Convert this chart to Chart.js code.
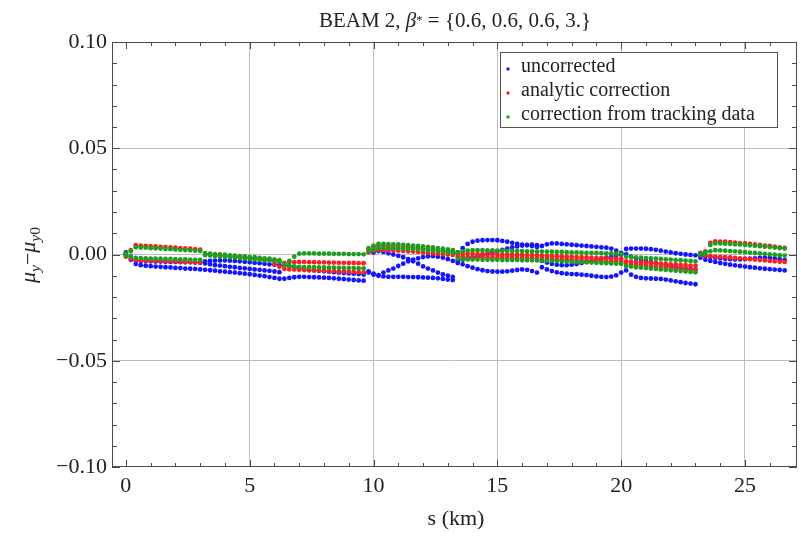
<!DOCTYPE html>
<html>
<head>
<meta charset="utf-8">
<title>BEAM 2 phase advance</title>
<script src="https://cdn.jsdelivr.net/npm/chart.js@4.4.1/dist/chart.umd.min.js"></script>
<style>
    html, body { margin: 0; padding: 0; background: #fff; }
    #wrap { position: relative; width: 801px; height: 536px; font-family: "Liberation Serif", "Times New Roman", serif; color: #222; }
    #chart { position: absolute; left: 0; top: 0; }
    .lbl { position: absolute; white-space: nowrap; }
    #title { left: 455px; top: 8px; font-size: 21px; line-height: 24px; transform: translateX(-50%); }
    #title sup { font-size: 60%; position: relative; top: -0.2em; vertical-align: baseline; }
    #xlab { left: 456px; top: 505px; font-size: 22px; line-height: 26px; transform: translateX(-50%); }
    #ylab { left: 29px; top: 255px; font-size: 22px; line-height: 26px; transform: translate(-50%, -50%) rotate(-90deg); }
    #ylab sub { font-size: 70%; position: relative; top: 0.3em; vertical-align: baseline; }
</style>
</head>
<body>
<div id="wrap">
    <canvas id="chart" width="801" height="536"></canvas>
    <div class="lbl" id="title">BEAM 2, <i>β</i><sup>*</sup> = {0.6, 0.6, 0.6, 3.}</div>
    <div class="lbl" id="ylab"><i>μ</i><sub><i>y</i></sub>−<i>μ</i><sub><i>y</i>0</sub></div>
    <div class="lbl" id="xlab">s (km)</div>
</div>
<script>
"use strict";

// s positions (km), shared by every track below
const sKm = [
    0, 0.2, 0.4, 0.6, 0.8, 1, 1.2, 1.4, 1.6, 1.8, 2, 2.2, 2.4, 2.6, 2.8, 3,
    3.2, 3.4, 3.6, 3.8, 4, 4.2, 4.4, 4.6, 4.8, 5, 5.2, 5.4, 5.6, 5.8, 6, 6.2,
    6.4, 6.6, 6.8, 7, 7.2, 7.4, 7.6, 7.8, 8, 8.2, 8.4, 8.6, 8.8, 9, 9.2, 9.4, 9.6,
    9.8, 10, 10.2, 10.4, 10.6, 10.8, 11, 11.2, 11.4, 11.6, 11.8, 12, 12.2, 12.4, 12.6, 12.8, 13, 13.2,
    13.4, 13.6, 13.8, 14, 14.2, 14.4, 14.6, 14.8, 15, 15.2, 15.4, 15.6, 15.8, 16, 16.2, 16.4, 16.6,
    16.8, 17, 17.2, 17.4, 17.6, 17.8, 18, 18.2, 18.4, 18.6, 18.8, 19, 19.2, 19.4, 19.6, 19.8, 20,
    20.2, 20.4, 20.6, 20.8, 21, 21.2, 21.4, 21.6, 21.8, 22, 22.2, 22.4, 22.6, 22.8, 23,
    23.2, 23.4, 23.6, 23.8, 24, 24.2, 24.4, 24.6, 24.8, 25, 25.2, 25.4, 25.6, 25.8, 26, 26.2, 26.4, 26.6
];

// mu_y - mu_y0 in units of 1e-3, one value per sKm entry (null = no point)
// uncorrected
const blueA = [
    1.0, -1.0, -2.8, -3.0, -3.1, -3.2, -3.3, -3.3, -3.4, -3.5, -3.5, -3.6, -3.7, -3.7, -3.8, -3.9,
    -3.2, -3.0, -2.9, -2.8, -2.8, -2.9, -3.0, -3.2, -3.4, -3.6, -3.9, -4.1, -4.4, -4.6, -4.8, -5.0,
    -5.0, -5.5, -6.0, -6.5, -7.0, -7.3, -7.5, -7.7, -7.9, -8.1, -8.3, -8.5, -8.7, -8.9, -9.0, -9.2, -9.4,
    -8.0, -9.0, -9.7, -8.5, -7.5, -6.6, -5.4, -4.3, -3.2, -2.4, -1.8, -1.2, -0.9, -0.8, -1.0, -1.5, -2.2, -3.0,
    1.0, 3.0, 5.0, 6.0, 6.5, 6.7, 6.8, 6.8, 6.7, 6.4, 6.0, 5.5, 5.0, 4.6, 4.3, 4.0, 3.5,
    4.0, 4.8, 5.2, 5.2, 5.0, 4.8, 4.6, 4.4, 4.2, 4.0, 3.8, 3.6, 3.4, 3.2, 2.8, 1.8, 0.8,
    2.6, 2.8, 2.8, 2.8, 2.7, 2.5, 2.2, 1.8, 1.4, 1.0, 0.6, 0.3, 0.0, -0.2, -0.4,
    -0.3, -0.8, -1.2, -1.5, -1.8, -2.0, -2.2, -2.3, -2.3, -2.2, -2.0, -1.8, -1.6, -1.5, -1.6, -1.8, -2.2, -2.7
];
const blueB = [
    0.0, -2.5, -4.5, -5.0, -5.3, -5.5, -5.7, -5.8, -6.0, -6.1, -6.3, -6.4, -6.6, -6.7, -6.8, -7.0,
    -7.2, -7.4, -7.6, -7.9, -8.1, -8.3, -8.5, -8.8, -9.0, -9.3, -9.6, -9.9, -10.2, -10.6, -11.0, -11.4,
    -11.4, -11.0, -10.7, -10.5, -10.5, -10.6, -10.7, -10.8, -10.9, -11.0, -11.2, -11.4, -11.6, -11.8, -12.0, -12.2, -12.3,
    -8.5, -9.5, -10.0, -10.3, -10.5, -10.5, -10.5, -10.5, -10.6, -10.6, -10.7, -10.8, -10.9, -11.0, -11.2, -11.5, -11.8, -12.0,
    -4.0, -4.6, -5.5, -6.2, -6.9, -7.4, -7.8, -8.0, -8.1, -8.1, -7.9, -7.6, -7.3, -7.0, -7.2, -7.8, -8.5,
    -6.0, -7.0, -7.8, -8.4, -8.8, -9.0, -9.2, -9.3, -9.5, -9.7, -10.0, -10.3, -10.5, -10.6, -10.4, -9.8, -8.5,
    -7.5, -9.5, -10.5, -11.0, -11.2, -11.3, -11.4, -11.5, -11.8, -12.2, -12.6, -13.0, -13.4, -13.7, -14.0,
    -1.5, -2.5, -3.0, -3.5, -4.0, -4.4, -4.8, -5.1, -5.4, -5.7, -6.0, -6.2, -6.5, -6.7, -6.9, -7.1, -7.3, -7.5
];
const blueC = [
    null, null, null, null, null, null, null, null, null, null, null, null, null, null, null, null,
    -4.2, -4.6, -5.0, -5.2, -5.5, -5.8, -6.0, -6.3, -6.5, -6.8, -7.0, -7.2, -7.5, -7.7, -8.0, -8.3,
    null, null, null, null, null, null, null, null, null, null, null, null, null, null, null, null, null,
    null, 1.0, 1.6, 1.2, 0.6, 0.0, -0.6, -1.3, -2.2, -3.2, -4.3, -5.6, -6.6, -7.5, -8.5, -9.4, -10.0, -10.5,
    -3.0, -2.5, -2.0, -1.4, -0.8, -0.2, 0.4, 1.0, 1.6, 2.2, 2.8, 3.4, 3.8, 4.2, 4.5, 4.6, 4.4,
    -3.0, -3.8, -4.4, -4.8, -5.0, -5.0, -4.8, -4.5, -4.0, -3.5, -3.0, -2.5, -2.0, -1.5, -1.0, -0.5, 0.0,
    0.0, -1.0, -1.8, -2.5, -3.0, -3.5, -4.0, -4.5, -5.0, -5.4, -5.8, -6.2, -6.5, -6.8, -7.0,
    null, null, null, null, null, null, null, null, null, null, null, null, null, null, null, null, null, null
];
// analytic correction
const redUpper = [
    0.0, 2.0, 4.4, 4.2, 4.1, 3.9, 3.8, 3.6, 3.5, 3.3, 3.2, 3.0, 2.9, 2.7, 2.5, 2.3,
    0.2, 0.0, -0.2, -0.4, -0.6, -0.8, -1.0, -1.2, -1.4, -1.6, -1.8, -2.0, -2.3, -2.5, -2.8, -3.4,
    -4.0, -3.8, -3.6, -3.5, -3.5, -3.6, -3.6, -3.7, -3.7, -3.8, -3.8, -3.9, -3.9, -4.0, -4.0, -4.1, -4.1,
    2.5, 3.5, 4.0, 4.0, 3.9, 3.8, 3.7, 3.6, 3.4, 3.3, 3.1, 2.9, 2.7, 2.4, 2.1, 1.8, 1.5, 1.2,
    0.2, 0.3, 0.3, 0.3, 0.2, 0.2, 0.1, 0.1, 0.0, 0.0, -0.1, -0.1, -0.2, -0.2, -0.3, -0.3, -0.4,
    -0.5, -0.6, -0.7, -0.8, -0.9, -1.0, -1.1, -1.2, -1.3, -1.4, -1.5, -1.6, -1.7, -1.8, -1.9, -2.0, -2.0,
    -3.2, -3.4, -3.5, -3.7, -3.8, -4.0, -4.1, -4.3, -4.4, -4.6, -4.7, -4.9, -5.0, -5.2, -5.3,
    0.8, 1.5, 5.5, 6.2, 6.1, 6.0, 5.8, 5.6, 5.4, 5.2, 5.0, 4.7, 4.5, 4.2, 4.0, 3.7, 3.4, 3.1
];
const redLower = [
    -1.0, -2.0, -2.6, -2.7, -2.8, -2.9, -3.0, -3.1, -3.1, -3.2, -3.3, -3.4, -3.4, -3.5, -3.6, -3.6,
    null, null, null, null, null, null, null, null, null, null, null, null, null, null, -4.5, -5.8,
    -6.8, -7.0, -7.1, -7.2, -7.3, -7.4, -7.4, -7.5, -7.6, -7.7, -7.8, -7.9, -8.0, -8.1, -8.2, -8.3, -8.4,
    1.0, 1.8, 2.2, 2.1, 2.0, 1.9, 1.8, 1.7, 1.5, 1.4, 1.2, 1.0, 0.8, 0.6, 0.4, 0.2, 0.0, -0.2,
    -1.0, -1.1, -1.2, -1.2, -1.3, -1.3, -1.4, -1.4, -1.5, -1.5, -1.6, -1.6, -1.7, -1.7, -1.8, -1.8, -1.9,
    -1.9, -2.0, -2.1, -2.2, -2.3, -2.4, -2.5, -2.6, -2.7, -2.8, -2.9, -3.0, -3.1, -3.2, -3.3, -3.3, -3.4,
    -4.5, -4.7, -4.9, -5.1, -5.3, -5.5, -5.7, -5.9, -6.1, -6.3, -6.5, -6.7, -6.9, -7.0, -7.2,
    -0.3, -0.5, -0.8, -1.0, -1.1, -1.3, -1.4, -1.6, -1.8, -2.0, -2.2, -2.4, -2.6, -2.8, -3.0, -3.2, -3.4, -3.5
];
// correction from tracking data
const greenUpper = [
    0.5, 1.5, 3.4, 3.3, 3.2, 3.0, 2.9, 2.8, 2.6, 2.5, 2.4, 2.2, 2.1, 2.0, 1.8, 1.7,
    0.6, 0.4, 0.2, 0.0, -0.1, -0.4, -0.5, -0.8, -0.9, -1.2, -1.3, -1.6, -1.8, -2.0, -2.3, -2.6,
    -4.5, -3.0, -1.0, 0.4, 0.5, 0.5, 0.5, 0.4, 0.4, 0.4, 0.3, 0.3, 0.3, 0.2, 0.2, 0.2, 0.1,
    3.0, 4.2, 5.0, 5.0, 4.9, 4.8, 4.7, 4.5, 4.4, 4.2, 4.0, 3.8, 3.6, 3.3, 3.0, 2.7, 2.4, 2.0,
    1.0, 1.5, 1.8, 2.0, 2.0, 2.0, 1.9, 1.9, 1.8, 1.8, 1.7, 1.7, 1.6, 1.6, 1.5, 1.5, 1.4,
    1.4, 1.3, 1.3, 1.2, 1.2, 1.1, 1.0, 1.0, 0.9, 0.8, 0.8, 0.7, 0.6, 0.5, 0.5, 0.4, 0.3,
    -1.0, -1.2, -1.4, -1.5, -1.7, -1.8, -2.0, -2.1, -2.3, -2.4, -2.6, -2.7, -2.9, -3.0, -3.2,
    0.5, 1.0, 4.5, 5.2, 5.2, 5.1, 5.0, 4.8, 4.7, 4.5, 4.3, 4.1, 3.9, 3.7, 3.5, 3.3, 3.0, 2.8
];
const greenLower = [
    -0.5, -1.0, -1.6, -1.7, -1.8, -1.9, -1.9, -2.0, -2.1, -2.1, -2.2, -2.3, -2.3, -2.4, -2.5, -2.5,
    -0.3, -0.5, -0.7, -0.9, -1.1, -1.3, -1.5, -1.7, -1.9, -2.1, -2.3, -2.5, -2.7, -2.9, -3.1, -3.3,
    -5.0, -5.4, -5.6, -5.8, -5.9, -6.0, -6.0, -6.1, -6.1, -6.2, -6.2, -6.3, -6.3, -6.4, -6.4, -6.5, -6.5,
    1.5, 2.5, 3.0, 3.0, 2.9, 2.9, 2.8, 2.7, 2.6, 2.5, 2.4, 2.2, 2.0, 1.8, 1.6, 1.3, 1.0, 0.7,
    -2.0, -2.2, -2.3, -2.4, -2.4, -2.5, -2.5, -2.5, -2.5, -2.6, -2.6, -2.6, -2.6, -2.7, -2.7, -2.7, -2.8,
    -2.8, -2.9, -3.0, -3.1, -3.2, -3.3, -3.4, -3.5, -3.6, -3.7, -3.8, -3.9, -4.0, -4.1, -4.2, -4.3, -4.4,
    -5.5, -5.7, -6.0, -6.2, -6.4, -6.6, -6.8, -7.0, -7.2, -7.4, -7.6, -7.8, -8.0, -8.2, -8.4,
    0.0, 0.2, 1.5, 2.0, 1.9, 1.8, 1.6, 1.5, 1.3, 1.1, 0.9, 0.7, 0.5, 0.3, 0.1, -0.1, -0.3, -0.5
];

const seriesNames = ["uncorrected", "analytic correction", "correction from tracking data"];
const seriesColors = ["#1414ff", "#ff1e1e", "#1e9e1e"];

const xTickValues = [0, 5, 10, 15, 20, 25];
const xTickLabels = ["0", "5", "10", "15", "20", "25"];
const xMinorTicks = [1, 2, 3, 4, 6, 7, 8, 9, 11, 12, 13, 14, 16, 17, 18, 19, 21, 22, 23, 24, 26];
const yTickValues = [-0.1, -0.05, 0, 0.05, 0.1];
const yTickLabels = ["\u22120.10", "\u22120.05", "0.00", "0.05", "0.10"];
const yMinorTicks = [-0.09, -0.08, -0.07, -0.06, -0.04, -0.03, -0.02, -0.01, 0.01, 0.02, 0.03, 0.04, 0.06, 0.07, 0.08, 0.09];

(function () {
    const FONT = '"Liberation Serif", "Times New Roman", serif';

    // stack the tracks of one series into chart points
    function toPoints(tracks) {
        var pts = [];
        tracks.forEach(function (track) {
            if (track.length !== sKm.length) console.warn("track length", track.length);
            for (var i = 0; i < sKm.length; i++) {
                if (track[i] !== null) pts.push({ x: sKm[i], y: track[i] / 1000 });
            }
        });
        return pts;
    }

    // frame with inward ticks on all four sides, plus the boxed legend
    const framePlugin = {
        id: "frame",
        afterDraw: function (chart) {
            const ctx = chart.ctx;
            const a = chart.chartArea;
            const xs = chart.scales.x;
            const ys = chart.scales.y;
            ctx.save();
            ctx.strokeStyle = "#4a4a4a";
            ctx.lineWidth = 1;
            ctx.beginPath();
            function xt(v, len) {
                const px = Math.round(xs.getPixelForValue(v)) + 0.5;
                ctx.moveTo(px, a.bottom); ctx.lineTo(px, a.bottom - len);
                ctx.moveTo(px, a.top); ctx.lineTo(px, a.top + len);
            }
            function yt(v, len) {
                const py = Math.round(ys.getPixelForValue(v)) + 0.5;
                ctx.moveTo(a.left, py); ctx.lineTo(a.left + len, py);
                ctx.moveTo(a.right, py); ctx.lineTo(a.right - len, py);
            }
            xTickValues.forEach(function (v) { xt(v, 7); });
            xMinorTicks.forEach(function (v) { xt(v, 4); });
            yTickValues.forEach(function (v) { yt(v, 8); });
            yMinorTicks.forEach(function (v) { yt(v, 5); });
            ctx.stroke();
            ctx.strokeRect(a.left + 0.5, a.top + 0.5, a.right - a.left - 1, a.bottom - a.top - 1);

            const bx = 500.5, by = 52.5, bw = 277, bh = 75;
            ctx.fillStyle = "#fff";
            ctx.fillRect(bx, by, bw, bh);
            ctx.strokeStyle = "#555";
            ctx.strokeRect(bx, by, bw, bh);
            ctx.font = "20px " + FONT;
            ctx.textBaseline = "middle";
            ctx.textAlign = "left";
            chart.data.datasets.forEach(function (ds, i) {
                const cy = 67 + i * 24;
                ctx.fillStyle = ds.backgroundColor;
                ctx.beginPath();
                ctx.arc(508, cy + 2, 1.7, 0, Math.PI * 2);
                ctx.fill();
                ctx.fillStyle = "#222";
                ctx.fillText(ds.label, 521, cy);
            });
            ctx.restore();
        }
    };

    const datasets = [
        { label: seriesNames[0], data: toPoints([blueA, blueB, blueC]), order: 3 },
        { label: seriesNames[1], data: toPoints([redUpper, redLower]), order: 2 },
        { label: seriesNames[2], data: toPoints([greenUpper, greenLower]), order: 1 }
    ];
    datasets.forEach(function (ds, i) {
        ds.backgroundColor = seriesColors[i];
        ds.borderWidth = 0;
        ds.pointRadius = 2.4;
        ds.showLine = false;
    });

    const gridColor = "#bdbdbd";

    new Chart(document.getElementById("chart"), {
        type: "scatter",
        data: { datasets: datasets },
        plugins: [framePlugin],
        options: {
            responsive: false,
            animation: false,
            devicePixelRatio: 1,
            layout: { padding: { left: 0, right: 1, top: 42, bottom: 0 } },
            plugins: {
                legend: { display: false },
                title: { display: false },
                tooltip: { enabled: false }
            },
            scales: {
                x: {
                    type: "linear",
                    min: -0.56,
                    max: 27.1,
                    afterBuildTicks: function (scale) {
                        scale.ticks = xTickValues.map(function (v) { return { value: v }; });
                    },
                    afterFit: function (scale) { scale.height = 69; },
                    ticks: {
                        autoSkip: false,
                        maxRotation: 0,
                        padding: 6,
                        color: "#222",
                        font: { family: FONT, size: 22 },
                        callback: function (value) { return xTickLabels[xTickValues.indexOf(value)]; }
                    },
                    grid: {
                        drawTicks: false,
                        lineWidth: 1,
                        color: function (c) { return c.tick && c.tick.value === 0 ? "rgba(0,0,0,0)" : gridColor; }
                    },
                    border: { display: false }
                },
                y: {
                    type: "linear",
                    min: -0.1,
                    max: 0.1,
                    afterBuildTicks: function (scale) {
                        scale.ticks = yTickValues.map(function (v) { return { value: v }; });
                    },
                    afterFit: function (scale) { scale.width = 112; },
                    ticks: {
                        autoSkip: false,
                        padding: 5,
                        color: "#222",
                        font: { family: FONT, size: 22 },
                        callback: function (value) { return yTickLabels[yTickValues.indexOf(value)]; }
                    },
                    grid: {
                        drawTicks: false,
                        lineWidth: 1,
                        color: function (c) {
                            return c.tick && Math.abs(c.tick.value) > 0.09 ? "rgba(0,0,0,0)" : gridColor;
                        }
                    },
                    border: { display: false }
                }
            }
        }
    });
})();
</script>
</body>
</html>
